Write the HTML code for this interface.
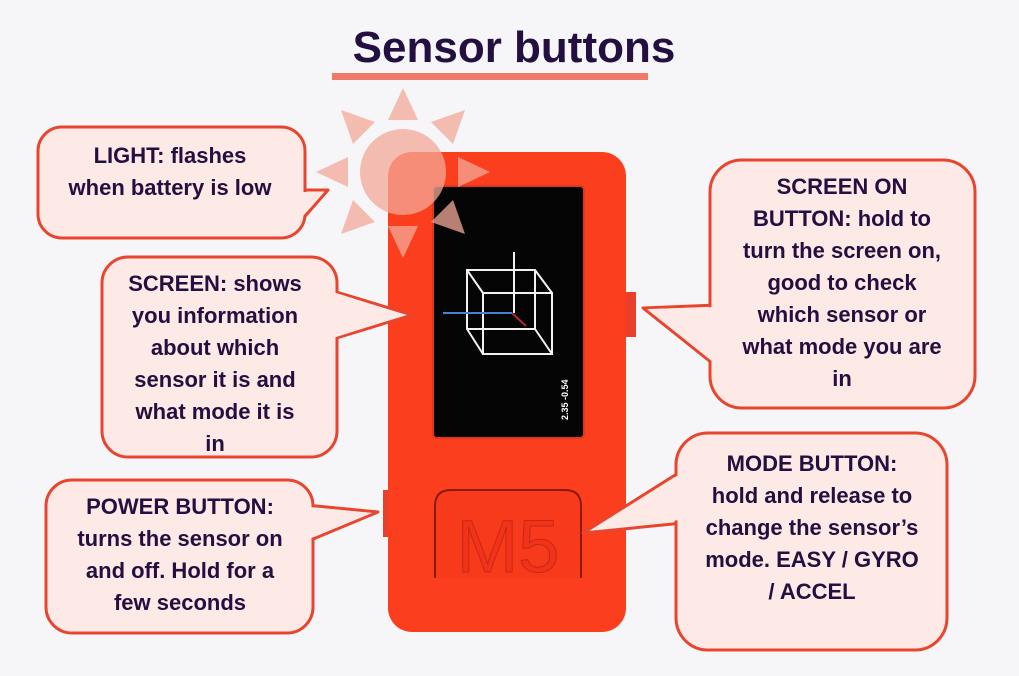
<!DOCTYPE html>
<html><head><meta charset="utf-8"><style>
html,body{margin:0;padding:0;background:#f6f6f8;}
svg{display:block}
text{font-family:"Liberation Sans",sans-serif;font-weight:bold;fill:#230f40}
</style></head><body>
<svg width="1019" height="676" viewBox="0 0 1019 676">
<rect width="1019" height="676" fill="#f6f6f8"/>
<text x="514" y="62" text-anchor="middle" font-size="44">Sensor buttons</text>
<rect x="332" y="73" width="316" height="7" fill="#f07a6a"/>

<g>
<rect x="383" y="490" width="13" height="47" fill="#e8402a"/>
<rect x="622" y="292" width="14" height="45" fill="#e8402a"/>
<rect x="388" y="152" width="238" height="480" rx="24" fill="#fb3f1e"/>
<rect x="433" y="186" width="151" height="252" rx="4" fill="#050505" stroke="#e2351a" stroke-width="2"/>
<g stroke="#f2f2f2" stroke-width="2" fill="none">
<polygon points="467,270 535,270 552,293 552,354 483,354 467,329"/>
<rect x="483" y="293" width="69" height="61"/>
<polyline points="467,270 483,293"/><polyline points="535,270 535,329 467,329"/><polyline points="535,329 552,354"/>
<line x1="514" y1="252" x2="514" y2="313"/>
</g>
<line x1="443" y1="313" x2="512" y2="313" stroke="#4a7ed8" stroke-width="2"/>
<line x1="512" y1="313" x2="526" y2="326" stroke="#b02a3a" stroke-width="2"/>
<text x="568" y="420" font-size="9" style="fill:#fff" transform="rotate(-90 568 420)">2.35 -0.54</text>
<path d="M435 578 V506 Q435 490 451 490 H565 Q581 490 581 506 V578" fill="#f83a1c" stroke="#8a1a0c" stroke-width="2"/>
<text x="508" y="572" text-anchor="middle" font-size="74" style="fill:#f0331a;font-weight:normal" stroke="#c82810" stroke-width="1">M5</text>
</g>

<g fill="#f4a898" opacity="0.75">
<circle cx="403" cy="172" r="43"/>
<polygon points="403,88 388,120 418,120"/>
<polygon points="403,258 388,226 418,226"/>
<polygon points="316,172 348,157 348,187"/>
<polygon points="490,172 458,157 458,187"/>
<polygon points="341,110 375,122 353,144"/>
<polygon points="465,110 431,122 453,144"/>
<polygon points="341,234 375,222 353,200"/>
<polygon points="465,234 431,222 453,200"/>
</g>

<g stroke="#e8452f" stroke-width="3" fill="#fde9e5" stroke-linejoin="round">
<g>
<polygon points="300,190 328,190 300,222"/>
<rect x="38" y="127" width="267" height="111" rx="24"/>
<polygon points="303,192 324,192 303,216" stroke="none"/>
<text x="170" y="163" text-anchor="middle" font-size="22" stroke="none">LIGHT: flashes</text>
<text x="170" y="195" text-anchor="middle" font-size="22" stroke="none">when battery is low</text>
</g>
<g>
<polygon points="330,290 412,315 330,340"/>
<rect x="102" y="257" width="235" height="200" rx="26"/>
<polygon points="333,292 406,315 333,338" stroke="none"/>
<text x="215" y="291" text-anchor="middle" font-size="22" stroke="none">SCREEN: shows</text>
<text x="215" y="323" text-anchor="middle" font-size="22" stroke="none">you information</text>
<text x="215" y="355" text-anchor="middle" font-size="22" stroke="none">about which</text>
<text x="215" y="387" text-anchor="middle" font-size="22" stroke="none">sensor it is and</text>
<text x="215" y="419" text-anchor="middle" font-size="22" stroke="none">what mode it is</text>
<text x="215" y="451" text-anchor="middle" font-size="22" stroke="none">in</text>
</g>
<g>
<polygon points="306,505 378,512 306,542"/>
<rect x="46" y="480" width="267" height="153" rx="26"/>
<polygon points="309,507 372,513 309,539" stroke="none"/>
<text x="180" y="514" text-anchor="middle" font-size="22" stroke="none">POWER BUTTON:</text>
<text x="180" y="546" text-anchor="middle" font-size="22" stroke="none">turns the sensor on</text>
<text x="180" y="578" text-anchor="middle" font-size="22" stroke="none">and off. Hold for a</text>
<text x="180" y="610" text-anchor="middle" font-size="22" stroke="none">few seconds</text>
</g>
<g>
<polygon points="717,305 643,308 717,367"/>
<rect x="710" y="160" width="265" height="248" rx="32"/>
<polygon points="714,307 649,309 714,363" stroke="none"/>
<text x="842" y="194" text-anchor="middle" font-size="22" stroke="none">SCREEN ON</text>
<text x="842" y="226" text-anchor="middle" font-size="22" stroke="none">BUTTON: hold to</text>
<text x="842" y="258" text-anchor="middle" font-size="22" stroke="none">turn the screen on,</text>
<text x="842" y="290" text-anchor="middle" font-size="22" stroke="none">good to check</text>
<text x="842" y="322" text-anchor="middle" font-size="22" stroke="none">which sensor or</text>
<text x="842" y="354" text-anchor="middle" font-size="22" stroke="none">what mode you are</text>
<text x="842" y="386" text-anchor="middle" font-size="22" stroke="none">in</text>
</g>
<g>
<polygon points="683,470 583,533 683,523"/>
<rect x="676" y="433" width="271" height="217" rx="32"/>
<polygon points="680,474 592,530 680,520" stroke="none"/>
<text x="812" y="471" text-anchor="middle" font-size="22" stroke="none">MODE BUTTON:</text>
<text x="812" y="503" text-anchor="middle" font-size="22" stroke="none">hold and release to</text>
<text x="812" y="535" text-anchor="middle" font-size="22" stroke="none">change the sensor’s</text>
<text x="812" y="567" text-anchor="middle" font-size="22" stroke="none">mode. EASY / GYRO</text>
<text x="812" y="599" text-anchor="middle" font-size="22" stroke="none">/ ACCEL</text>
</g>
</g>
</svg>
</body></html>
